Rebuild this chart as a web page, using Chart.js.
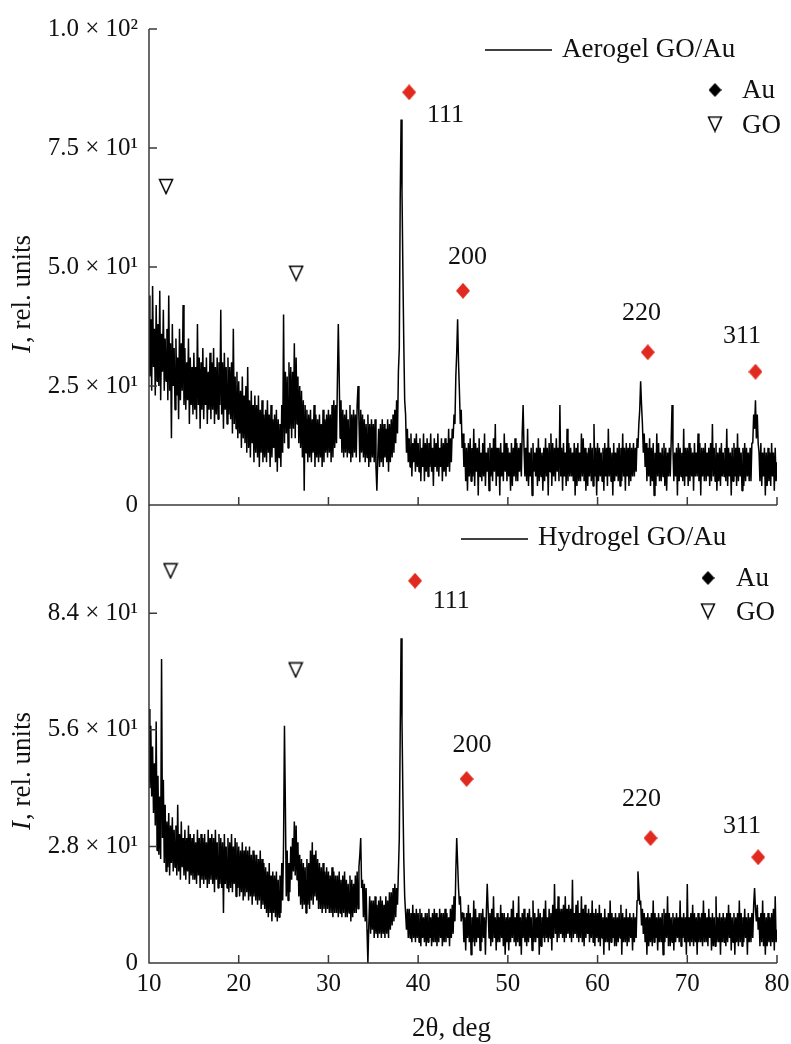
<!DOCTYPE html>
<html>
<head>
<meta charset="utf-8">
<script src="https://cdn.jsdelivr.net/npm/chart.js@4.4.0/dist/chart.umd.min.js"></script>
<style>
html,body{margin:0;padding:0;background:#fff;}
#wrap{position:relative;width:791px;height:1044px;overflow:hidden;background:#fff;}
#c1,#c2{position:absolute;left:0;}
#c1{top:0;}
#c2{top:490px;}
</style>
</head>
<body>
<div id="wrap">
<canvas id="c1" width="791" height="520"></canvas>
<canvas id="c2" width="791" height="554"></canvas>
</div>
<script>
// ---------- DATA ----------
const X0 = 10, DX = 0.1;               // sampling grid of the 2θ scans (deg)
const xTicks = [10, 20, 30, 40, 50, 60, 70, 80];

// Aerogel GO/Au intensity, one value per 0.1° from 10° to 80°
const aeroI = [
44,27,39,24,46,29,37,23,42,26,
38,25,45,22,36,28,41,24,35,26,
37,22,44,24,34,14,38,25,33,20,
35,23,31,18,37,22,34,24,42,21,
33,20,30,22,35,17,31,21,29,19,
32,20,29,18,38,21,31,16,30,20,
33,18,29,21,31,17,28,20,32,18,
30,20,33,17,29,19,31,18,30,21,
41,19,30,16,32,20,29,17,31,19,
29,18,30,15,37,17,27,16,28,14,
26,15,24,12,27,14,23,13,25,11,
29,12,22,10,24,13,21,9,23,11,
21,10,23,8,20,11,22,9,19,10,
20,9,22,11,19,8,21,10,18,12,
19,9,20,7,18,10,17,8,21,11,
40,13,28,15,27,12,30,16,29,14,
28,16,34,14,31,17,27,13,25,12,
24,10,22,3,21,11,20,9,19,10,
20,9,18,11,21,8,19,10,18,9,
19,10,17,8,20,9,18,11,19,10,
20,11,19,9,21,10,22,12,21,13,
26,38,27,14,22,11,20,10,19,11,
20,10,18,11,21,9,19,10,20,11,
19,10,21,25,18,9,20,11,19,10,
18,9,17,10,19,8,17,9,18,10,
17,9,18,8,3,10,16,8,17,9,
18,8,17,10,16,9,18,7,17,9,
18,10,19,11,20,13,22,15,28,33,
64,81,66,49,34,22,19,11,16,9,
14,8,15,6,13,9,14,7,15,8,
13,7,14,5,12,8,15,5,13,7,
14,6,13,8,15,7,12,4,14,8,
13,7,15,6,12,8,14,5,13,7,
14,6,13,8,16,7,14,9,16,14,
19,17,27,32,39,30,24,17,20,12,
15,8,13,5,12,3,13,6,14,5,
12,6,16,4,13,7,12,2,14,6,
11,5,13,6,15,4,11,7,12,3,
13,6,12,5,14,7,17,4,12,6,
12,2,13,6,11,5,15,7,13,5,
12,6,11,3,13,4,12,6,14,5,
13,5,12,7,13,6,15,21,12,6,
12,5,16,4,11,6,12,2,13,7,
11,6,12,4,14,5,12,6,11,3,
12,5,14,6,12,2,13,7,15,4,
13,6,12,5,14,7,12,5,21,6,
12,3,13,6,11,4,16,5,13,6,
12,6,11,5,13,2,12,4,13,5,
11,5,15,6,14,5,12,3,11,4,
12,6,13,5,12,4,17,6,12,2,
13,5,12,6,11,5,12,3,13,6,
12,4,16,6,12,5,11,2,13,5,
11,6,12,5,13,4,12,5,15,6,
12,3,13,6,12,4,13,5,12,6,
13,6,12,7,14,12,17,20,26,21,
17,11,15,8,13,5,12,6,14,4,
12,5,13,2,11,4,15,6,13,5,
11,5,12,6,13,4,12,3,11,6,
12,6,13,21,12,5,11,6,12,2,
13,5,12,6,11,5,16,4,12,6,
12,4,13,5,12,6,11,3,13,6,
11,6,15,5,13,2,12,6,12,5,
13,5,11,6,12,4,13,5,17,6,
12,5,13,3,11,5,12,4,13,6,
11,6,12,5,16,4,12,6,11,2,
12,5,13,6,12,4,15,5,12,6,
11,3,12,4,13,5,12,6,11,5,
12,5,13,13,19,16,22,14,19,13,
11,5,13,4,11,6,12,2,11,4,
12,5,11,4,13,6,11,3,12,5,
9];

// Hydrogel GO/Au intensity, one value per 0.1° from 10° to 80°
const hydroI = [
61,42,57,40,52,36,48,33,58,27,
45,26,40,25,73,30,44,24,38,22,
34,23,36,21,33,24,35,22,32,23,
33,21,38,22,31,20,34,23,30,21,
32,20,30,22,33,19,31,21,30,20,
31,20,29,19,32,21,30,18,31,20,
30,19,31,20,29,18,32,19,30,20,
31,19,30,17,32,20,29,18,31,19,
30,18,29,12,31,19,28,18,30,17,
29,18,31,17,28,19,30,16,29,18,
28,16,27,17,29,15,27,16,28,17,
27,15,28,16,26,14,27,16,26,15,
26,14,25,15,27,13,25,14,24,13,
23,12,22,11,24,12,21,10,22,12,
21,11,22,10,20,11,21,12,24,15,
29,57,38,16,27,15,24,17,28,20,
30,22,34,21,33,20,29,16,26,14,
25,13,24,14,23,12,25,14,24,13,
27,15,29,14,26,16,27,15,25,13,
24,13,23,12,24,13,22,12,23,13,
22,12,21,12,23,11,22,12,21,12,
21,11,22,12,20,11,21,12,22,11,
20,11,19,12,21,10,20,11,19,12,
21,12,22,13,23,26,30,18,20,11,
19,10,18,8,0,9,16,7,15,8,
15,6,16,7,14,6,15,7,16,6,
15,7,14,6,16,7,15,6,17,8,
17,9,18,10,19,11,18,14,22,30,
55,78,58,40,25,16,12,8,13,6,
13,6,12,5,14,6,12,5,13,6,
12,5,13,4,12,6,11,5,12,4,
12,5,13,6,11,4,12,5,13,5,
12,4,11,5,13,6,12,4,12,5,
13,5,12,6,11,4,13,6,14,7,
16,10,22,30,24,18,14,16,10,12,
12,5,11,3,12,6,14,5,12,2,
11,5,15,4,13,5,11,6,12,3,
12,5,13,6,11,2,12,19,13,6,
12,4,13,5,16,6,11,3,12,5,
11,5,14,6,12,4,12,2,11,5,
12,3,11,5,13,6,15,5,11,4,
12,5,16,4,11,2,12,6,13,5,
11,4,12,5,13,6,11,3,15,5,
12,5,11,6,13,2,12,4,11,6,
13,5,15,6,11,5,13,6,12,3,
14,6,19,7,13,5,16,6,13,7,
13,6,14,5,16,6,13,7,14,6,
13,5,20,6,12,7,14,6,15,5,
12,6,16,5,13,4,14,6,12,7,
13,5,12,6,15,5,12,4,13,6,
12,5,14,4,12,6,11,2,13,5,
11,5,12,3,15,5,12,6,11,4,
12,4,11,5,12,6,14,2,12,5,
11,5,13,4,11,5,12,6,11,3,
12,5,11,6,15,22,18,14,15,9,
13,7,12,5,11,2,12,4,11,5,
12,4,15,5,12,6,11,3,12,5,
11,5,12,2,13,5,12,6,16,4,
12,4,11,5,12,3,11,5,12,6,
11,5,15,4,11,6,12,5,11,2,
19,5,11,4,12,5,14,4,12,5,
11,2,12,5,11,5,12,4,15,5,
12,5,11,4,13,6,11,3,12,4,
11,4,16,5,11,5,12,2,11,5,
12,5,11,4,12,5,14,6,12,3,
11,5,12,2,11,5,12,4,15,5,
12,4,11,5,13,6,11,2,12,5,
11,5,12,6,14,18,13,10,14,8,
11,4,12,5,15,4,12,2,11,4,
12,5,11,4,12,5,13,3,16,5,
8];

// Phase markers (2θ, intensity)
const auLabels = ['111', '200', '220', '311'];
const aeroAuX = [39.0, 45.0, 65.6, 77.6];
const aeroAuY = [86.7, 45.0, 32.1, 28.0];
const aeroGoX = [11.9, 26.4];
const aeroGoY = [66.9, 48.7];
const aeroLabelX = [43.05, 45.5, 64.9, 76.1];
const aeroLabelY = [81.9, 52.1, 40.3, 35.4];

const hydroAuX = [39.65, 45.4, 65.9, 77.9];
const hydroAuY = [91.8, 44.2, 30.0, 25.4];
const hydroGoX = [12.4, 26.35];
const hydroGoY = [94.2, 70.4];
const hydroLabelX = [43.7, 46.0, 64.9, 76.1];
const hydroLabelY = [86.8, 52.3, 39.4, 32.9];

// Axis ticks
const aeroYTicks = [0, 25, 50, 75, 100];
const aeroYLabels = ['0', '2.5 × 10¹', '5.0 × 10¹', '7.5 × 10¹', '1.0 × 10²'];
const hydroYTicks = [0, 28, 56, 84];
const hydroYLabels = ['0', '2.8 × 10¹', '5.6 × 10¹', '8.4 × 10¹'];

// ---------- STYLE ----------
const FONT = '"Liberation Serif", "Times New Roman", Times, serif';
const AXIS = '#3a3a3a';
const RED = '#e12a1f';
const TXT = '#111';

function makeTriangle(w, h, lw) {
  const c = document.createElement('canvas');
  c.width = w; c.height = h;
  const g = c.getContext('2d');
  g.strokeStyle = '#000'; g.lineWidth = lw; g.lineJoin = 'miter';
  g.beginPath();
  g.moveTo(lw, lw); g.lineTo(w - lw, lw); g.lineTo(w / 2, h - lw); g.closePath();
  g.stroke();
  return c;
}
function makeDiamond(w, h, color) {
  const c = document.createElement('canvas');
  c.width = w; c.height = h;
  const g = c.getContext('2d');
  g.fillStyle = color;
  g.beginPath();
  g.moveTo(w / 2, 0); g.lineTo(w, h / 2); g.lineTo(w / 2, h); g.lineTo(0, h / 2); g.closePath();
  g.fill();
  return c;
}
const triImg = makeTriangle(16, 17, 1.5);
const redDiamond = makeDiamond(14, 16, RED);
const blackDiamond = makeDiamond(13, 14, '#000');

function series(arr) {
  return arr.map((v, i) => ({ x: Math.round((X0 + i * DX) * 10) / 10, y: v }));
}
function pts(xs, ys) { return xs.map((x, i) => ({ x: x, y: ys[i] })); }

const deco = {
  id: 'deco',
  afterDraw(chart, args, o) {
    const ctx = chart.ctx, a = chart.chartArea;
    const xs = chart.scales.x, ys = chart.scales.y;
    ctx.save();
    // axes and inward ticks
    ctx.strokeStyle = AXIS; ctx.lineWidth = 1.5;
    ctx.beginPath();
    ctx.moveTo(a.left, a.top); ctx.lineTo(a.left, a.bottom); ctx.lineTo(a.right, a.bottom);
    xTicks.forEach(v => { const p = xs.getPixelForValue(v); ctx.moveTo(p, a.bottom); ctx.lineTo(p, a.bottom - 8); });
    o.yTicks.forEach(v => { const p = ys.getPixelForValue(v); ctx.moveTo(a.left, p); ctx.lineTo(a.left + 8, p); });
    ctx.stroke();

    // peak labels
    ctx.fillStyle = TXT;
    ctx.font = '26px ' + FONT;
    ctx.textAlign = 'center'; ctx.textBaseline = 'middle';
    o.labelX.forEach((lx, i) => {
      ctx.fillText(auLabels[i], xs.getPixelForValue(lx), ys.getPixelForValue(o.labelY[i]));
    });

    // legend
    const L = o.legend;
    ctx.textAlign = 'left'; ctx.textBaseline = 'alphabetic';
    ctx.strokeStyle = '#000'; ctx.lineWidth = 1.6;
    ctx.beginPath(); ctx.moveTo(L.x0, L.ly); ctx.lineTo(L.x1, L.ly); ctx.stroke();
    ctx.font = '27px ' + FONT;
    ctx.fillText(o.name, L.tx, L.ty);
    ctx.drawImage(blackDiamond, L.dx - blackDiamond.width / 2, L.dy - blackDiamond.height / 2);
    ctx.fillText('Au', L.sx, L.dy + 8);
    ctx.drawImage(triImg, L.dx - triImg.width / 2, L.gy - triImg.height / 2);
    ctx.fillText('GO', L.sx, L.gy + 9);

    // y title: "I, rel. units" with italic I
    ctx.save();
    ctx.translate(30, o.titleY);
    ctx.rotate(-Math.PI / 2);
    ctx.font = 'italic 27px ' + FONT;
    ctx.fillText('I', 0, 0);
    const wI = ctx.measureText('I').width;
    ctx.font = '27px ' + FONT;
    ctx.fillText(', rel. units', wI + 1, 0);
    ctx.restore();

    if (o.xTitle) {
      ctx.font = '27px ' + FONT;
      ctx.textAlign = 'left';
      ctx.fillText(o.xTitle, o.xTitleX, o.xTitleY);
    }
    ctx.restore();
  }
};

function panel(canvasId, cfg) {
  return new Chart(document.getElementById(canvasId), {
    type: 'line',
    data: {
      datasets: [
        {
          data: series(cfg.I), borderColor: '#000', borderWidth: 1.5, pointRadius: 0,
          borderJoinStyle: 'bevel', fill: false, tension: 0, order: 3
        },
        {
          type: 'scatter', data: pts(cfg.goX, cfg.goY), pointStyle: triImg, pointRadius: 9,
          showLine: false, clip: false, order: 2
        },
        {
          type: 'scatter', data: pts(cfg.auX, cfg.auY), pointStyle: redDiamond, pointRadius: 8,
          showLine: false, clip: false, order: 1
        }
      ]
    },
    options: {
      responsive: false, animation: false, events: [],
      layout: { padding: { left: 0, right: 14, top: cfg.padTop, bottom: 0 } },
      plugins: {
        legend: { display: false }, tooltip: { enabled: false },
        deco: cfg.deco
      },
      scales: {
        x: {
          type: 'linear', min: 10, max: 80,
          afterBuildTicks: s => { s.ticks = xTicks.map(v => ({ value: v })); },
          afterFit: s => { s.height = cfg.xH; s.paddingLeft = 0; s.paddingRight = 0; s.paddingTop = 0; s.paddingBottom = 0; },
          grid: { display: false, drawTicks: false },
          border: { display: false },
          ticks: {
            display: cfg.showX, autoSkip: false, maxRotation: 0, padding: 6,
            color: TXT, font: { family: FONT, size: 25 },
            callback: v => String(v)
          }
        },
        y: {
          type: 'linear', min: 0, max: cfg.yMax,
          afterBuildTicks: s => { s.ticks = cfg.yTicks.map(v => ({ value: v })); },
          afterFit: s => { s.width = 149; s.paddingTop = 0; s.paddingBottom = 0; s.paddingLeft = 0; s.paddingRight = 0; },
          grid: { display: false, drawTicks: false },
          border: { display: false },
          ticks: {
            padding: 11, color: TXT, font: { family: FONT, size: 25 },
            callback: (v, i) => cfg.yLabels[i]
          }
        }
      }
    },
    plugins: [deco]
  });
}

panel('c1', {
  I: aeroI, goX: aeroGoX, goY: aeroGoY, auX: aeroAuX, auY: aeroAuY,
  yMax: 100, yTicks: aeroYTicks, yLabels: aeroYLabels, padTop: 29, xH: 15, showX: false,
  deco: {
    yTicks: aeroYTicks, labelX: aeroLabelX, labelY: aeroLabelY, name: 'Aerogel GO/Au',
    legend: { x0: 485, x1: 552, ly: 50, tx: 562, ty: 57, dx: 715, dy: 90, gy: 124, sx: 742 },
    titleY: 353
  }
});

panel('c2', {
  I: hydroI, goX: hydroGoX, goY: hydroGoY, auX: hydroAuX, auY: hydroAuY,
  yMax: 110, yTicks: hydroYTicks, yLabels: hydroYLabels, padTop: 15, xH: 81, showX: true,
  deco: {
    yTicks: hydroYTicks, labelX: hydroLabelX, labelY: hydroLabelY, name: 'Hydrogel GO/Au',
    legend: { x0: 461, x1: 528, ly: 49, tx: 538, ty: 55, dx: 708, dy: 88, gy: 121, sx: 736 },
    titleY: 340,
    xTitle: '2θ, deg', xTitleX: 412, xTitleY: 546
  }
});
</script>
</body>
</html>
